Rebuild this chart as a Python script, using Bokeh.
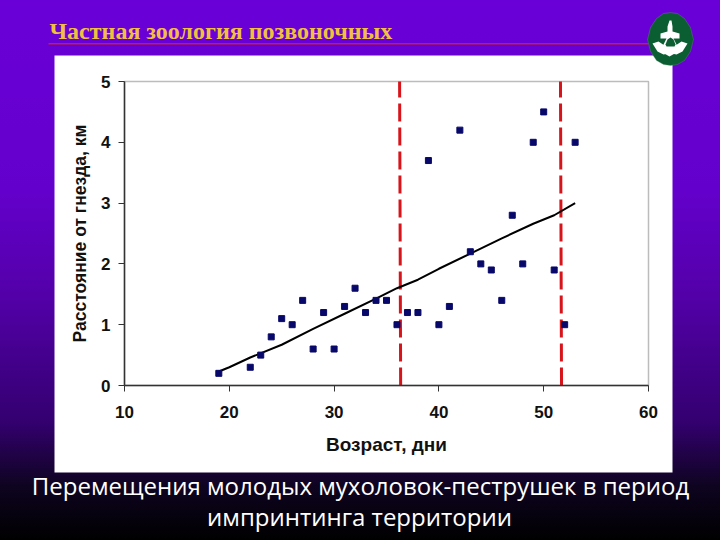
from bokeh.embed import file_html
from bokeh.models import BoxAnnotation, Label, PolyAnnotation
from bokeh.plotting import figure
from bokeh.resources import INLINE

# flycatcher data
age_days = [19, 22, 23, 24, 25, 26, 27, 28, 29, 30, 31, 32, 33, 34, 35, 36, 37,
            38, 39, 40, 41, 42, 43, 44, 45, 46, 47, 48, 49, 50, 51, 52, 53]
distance_km = [0.2, 0.3, 0.5, 0.8, 1.1, 1.0, 1.4, 0.6, 1.2, 0.6, 1.3, 1.6, 1.2, 1.4, 1.4, 1.0, 1.2,
               1.2, 3.7, 1.0, 1.3, 4.2, 2.2, 2.0, 1.9, 1.4, 2.8, 2.0, 4.0, 4.5, 1.9, 1.0, 4.0]

trend_x = [19, 20, 22, 25, 28, 31, 34, 36, 38, 40, 43, 46, 49, 51, 53]
trend_y = [0.23, 0.3, 0.46, 0.67, 0.93, 1.18, 1.43, 1.6, 1.74, 1.92, 2.17, 2.42, 2.66, 2.8, 3.0]

left_edge_x = [36.25, 36.35]
right_edge_x = [51.6, 51.7]
edge_y = [0, 5]

x_ticks = [10, 20, 30, 40, 50, 60]
y_ticks = [0, 1, 2, 3, 4, 5]

title_text = "Частная зоология позвоночных"
caption_lines = ["Перемещения молодых мухоловок-пеструшек в период", "импринтинга территории"]
x_label = "Возраст, дни"
y_label = "Расстояние от гнезда, км"

W, H = 720, 540
# annotations get clipped to the frame, so the frame fills the page and the axes sit inside it
PLOT_L, PLOT_R, PLOT_T, PLOT_B = 124, 648, 81, 385
px_x = (PLOT_R - PLOT_L) / (x_ticks[-1] - x_ticks[0])
px_y = (PLOT_B - PLOT_T) / (y_ticks[-1] - y_ticks[0])
x_range = (x_ticks[0] - PLOT_L / px_x, x_ticks[-1] + (W - PLOT_R) / px_x)
y_range = (y_ticks[0] - (H - PLOT_B) / px_y, y_ticks[-1] + PLOT_T / px_y)

p = figure(width=W, height=H, x_range=x_range, y_range=y_range,
           output_backend="svg", toolbar_location=None,
           min_border_left=0, min_border_right=0, min_border_top=0, min_border_bottom=0)
p.styles = {"background": "linear-gradient(to bottom, #6a00d8 0%, #6400cc 35%, #5300a8 55%, #340070 78%, #0e0420 90%, #000000 100%)"}
p.border_fill_color = None
p.background_fill_color = None
p.outline_line_color = None
p.grid.visible = False

for ax in (p.xaxis[0], p.yaxis[0]):
    ax.axis_line_color = "#333333"
    ax.axis_line_width = 1.5
    ax.major_tick_line_color = "#333333"
    ax.major_tick_out = 6
    ax.major_tick_in = 0
    ax.minor_tick_line_color = None
    ax.major_label_text_font = "Liberation Sans"
    ax.major_label_text_font_style = "bold"
    ax.major_label_text_font_size = "17px"
    ax.major_label_text_color = "#111111"
    ax.axis_label_text_font = "Liberation Sans"
    ax.axis_label_text_font_style = "bold"
    ax.axis_label_text_color = "#111111"

p.xaxis.axis_label_text_font_size = "19px"
p.yaxis.axis_label_text_font_size = "17.5px"
p.xaxis.fixed_location = y_ticks[0]
p.yaxis.fixed_location = x_ticks[0]
p.xaxis.bounds = (x_ticks[0], x_ticks[-1])
p.yaxis.bounds = (y_ticks[0], y_ticks[-1])
p.xaxis.ticker = x_ticks
p.yaxis.ticker = y_ticks
p.xaxis.axis_label = x_label
p.yaxis.axis_label = y_label
p.xaxis.major_label_standoff = 14
p.yaxis.major_label_standoff = 8
p.xaxis.axis_label_standoff = 13
p.yaxis.axis_label_standoff = 8

panel = BoxAnnotation(left=54, right=672, top=55, bottom=472,
                      left_units="canvas", right_units="canvas", top_units="canvas", bottom_units="canvas",
                      fill_color="white", fill_alpha=1, line_color=None, level="underlay")
p.add_layout(panel)
p.add_layout(BoxAnnotation(left=x_ticks[0], right=x_ticks[-1], bottom=y_ticks[0], top=y_ticks[-1],
                           fill_alpha=0, line_color="#222222", line_width=1.5, level="underlay"))

p.line(left_edge_x[::-1], edge_y, line_color="#d7141a", line_width=3, line_dash=[18, 6])
p.line(right_edge_x[::-1], edge_y, line_color="#d7141a", line_width=3, line_dash=[18, 6])
p.line(trend_x, trend_y, line_color="black", line_width=2)
p.scatter(age_days, distance_km, marker="square", size=6, fill_color="#08086a", line_color="#08086a")

rule = BoxAnnotation(left=48, right=648, top=42.5, bottom=44,
                     left_units="canvas", right_units="canvas", top_units="canvas", bottom_units="canvas",
                     fill_color="#c8203c", fill_alpha=1, line_color=None)
p.add_layout(rule)

p.add_layout(Label(x=49, y=30, x_units="canvas", y_units="canvas", text=title_text,
                   text_font="Liberation Serif", text_font_style="bold", text_font_size="24px",
                   text_color="#f2c040", text_baseline="alphabetic"))

p.add_layout(Label(x=360, y=485, x_units="canvas", y_units="canvas", text=caption_lines[0],
                   text_font="Open Sans", text_font_size="24px", text_color="white",
                   text_align="center", text_baseline="middle"))
p.add_layout(Label(x=359, y=516, x_units="canvas", y_units="canvas", text=caption_lines[1],
                   text_font="Open Sans", text_font_size="24px", text_color="white",
                   text_align="center", text_baseline="middle"))

# logo in the corner
GREEN = "#0b5e32"
logo_shapes = [
    (GREEN, [647, 650, 656, 663, 670, 677, 684, 690, 693, 690, 684, 677, 670, 663, 656, 650],
            [39, 27, 18, 13, 12, 13, 18, 27, 39, 51, 60, 64, 65, 64, 60, 51]),
    ("white", [667, 669, 671, 672, 672, 679, 679, 673, 677, 662, 666, 660, 660, 667],
              [26, 20, 20, 26, 31, 33, 38, 38, 46, 46, 38, 38, 33, 31]),
    ("white", [652, 658, 664, 668, 663, 657], [43, 41, 45, 53, 54, 51]),
    ("white", [687, 681, 675, 671, 676, 682], [43, 41, 45, 53, 54, 51]),
    ("white", [664, 669, 675, 676, 669, 662], [46, 43, 46, 52, 56, 52]),
    (GREEN, [665, 667, 670, 673, 675, 674, 666], [44, 39, 37, 39, 44, 46, 46]),
]
for color, xs, ys in logo_shapes:
    p.add_layout(PolyAnnotation(xs=xs, ys=ys, xs_units="canvas", ys_units="canvas",
                                fill_color=color, fill_alpha=1,
                                line_color="#6fa37a" if color == GREEN and len(xs) > 10 else None))

open("out.html", "w").write(file_html(p, INLINE))
